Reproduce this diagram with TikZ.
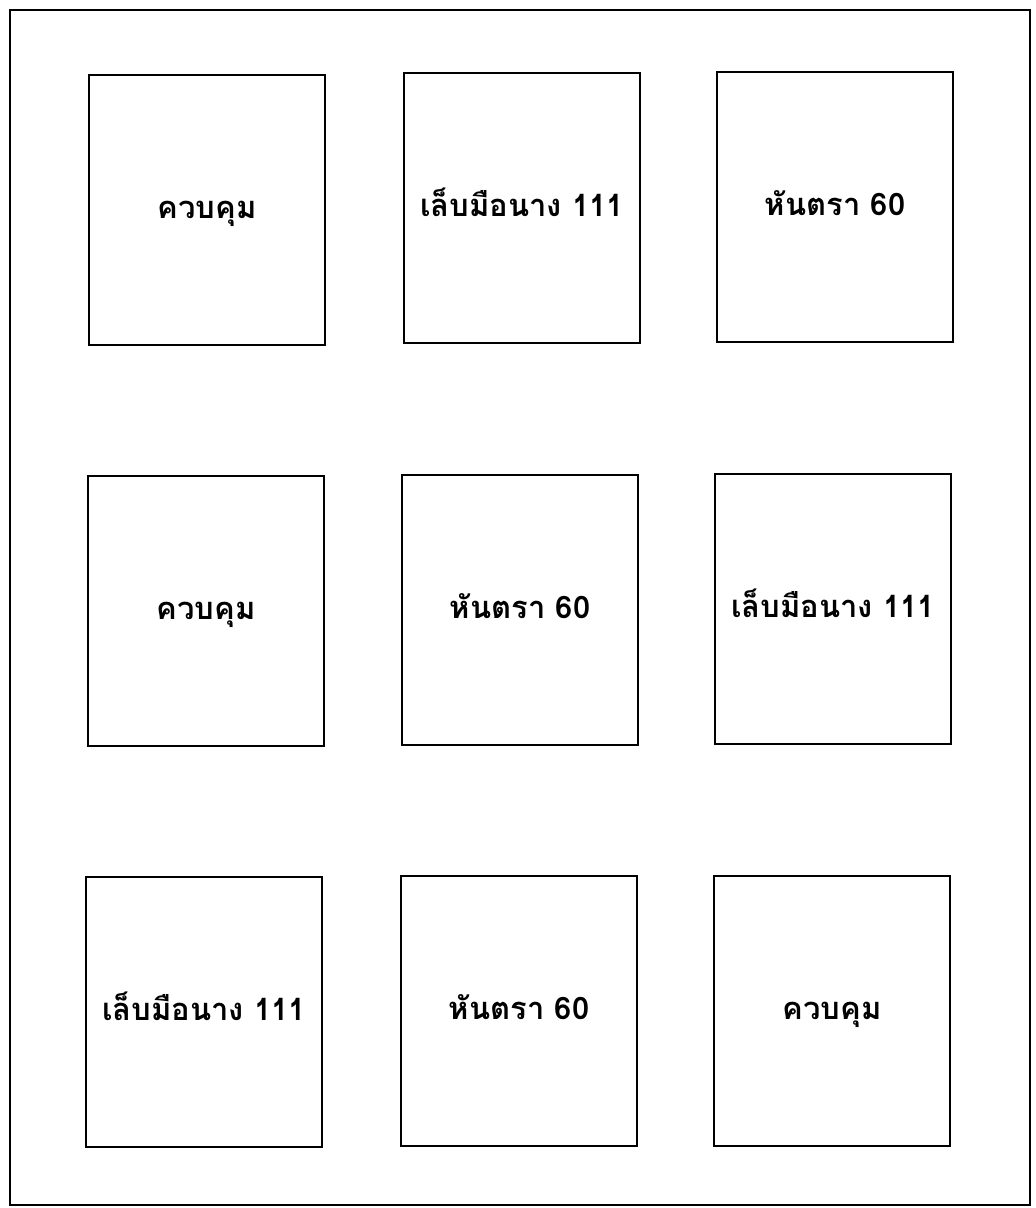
\documentclass[tikz,border=0pt]{standalone}
\usepackage{fontspec}
\newfontfamily\thaifont[Script=Thai]{Loma}
\usetikzlibrary{calc}

\tikzset{
    cell/.style={draw, line width=1.6pt, minimum width=5.9cm, minimum height=6.75cm, inner sep=0pt,
        text height=0.5cm, text depth=0.08cm, font=\thaifont\bfseries\fontsize{22}{26}\selectfont}
}

\begin{document}
\begin{tikzpicture}[x=0.025cm, y=-0.025cm]
        % Page size
        \useasboundingbox (0,0) rectangle (1036,1208);

        % Outer frame
        \draw[line width=1.6pt] (10,10) rectangle (1030,1205);

        % Row 1
        \node[cell] (r1a) at (207,210) {ควบคุม};
        \node[cell] (r1b) at (522,208) {เล็บมือนาง 111};
        \node[cell] (r1c) at (835,207) {หันตรา 60};

        % Row 2
        \node[cell] (r2a) at (206,611) {ควบคุม};
        \node[cell] (r2b) at (520,610) {หันตรา 60};
        \node[cell] (r2c) at (833,609) {เล็บมือนาง 111};

        % Row 3
        \node[cell] (r3a) at (204,1012) {เล็บมือนาง 111};
        \node[cell] (r3b) at (519,1011) {หันตรา 60};
        \node[cell] (r3c) at (832,1011) {ควบคุม};
    \end{tikzpicture}
\end{document}
